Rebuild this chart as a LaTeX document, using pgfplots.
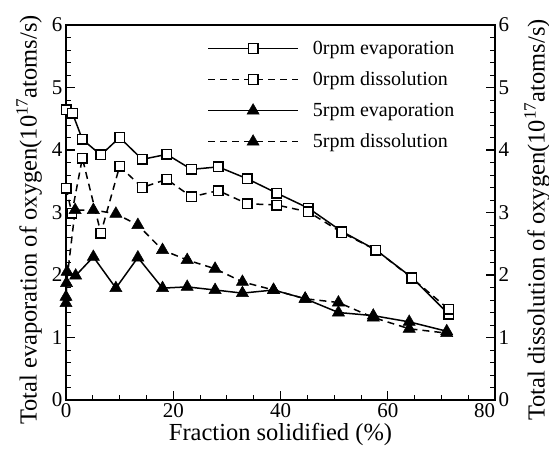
\documentclass[border=0pt]{standalone}
\usepackage{fontspec}
\setmainfont{Liberation Serif}
\usepackage{pgfplots}
\usepackage{pgfplotstable}
\pgfplotsset{compat=1.18}

\pgfplotstableread{
x y
0 4.64
1.2 4.59
3.05 4.17
6.5 3.92
10 4.20
14.2 3.85
18.8 3.93
23.4 3.69
28.4 3.73
33.8 3.54
39.3 3.31
45.2 3.07
51.4 2.70
57.8 2.40
64.5 1.96
71.4 1.37
}\evapzero
\pgfplotstableread{
x y
0 3.39
1.1 2.99
3.05 3.87
6.5 2.67
10 3.74
14.2 3.40
18.8 3.53
23.4 3.25
28.4 3.35
33.8 3.14
39.3 3.12
45.2 3.01
51.4 2.68
57.8 2.40
64.5 1.95
71.4 1.45
}\disszero
\pgfplotstableread{
x y
0 1.65
0.2 2.05
1.8 1.99
5.1 2.29
9.3 1.79
13.4 2.28
18.0 1.79
22.6 1.81
27.8 1.76
32.9 1.71
38.7 1.76
44.6 1.62
50.8 1.40
57.3 1.35
64.0 1.25
71.0 1.10
}\evapfive
\pgfplotstableread{
x y
0 1.55
0.1 1.87
1.7 3.04
5.1 3.04
9.3 2.98
13.4 2.80
18.0 2.40
22.6 2.24
27.8 2.10
32.9 1.89
38.7 1.76
44.6 1.62
50.8 1.56
57.3 1.32
64.0 1.14
71.0 1.07
}\dissfive

\begin{document}
\begin{tikzpicture}
\pgfplotsset{
  common/.style={
    scale only axis, width=429pt, height=375pt,
    xmin=0, xmax=80, ymin=0, ymax=6,
    /pgf/number format/assume math mode=true,
    tick label style={font=\fontsize{21}{21}\selectfont},
    label style={font=\fontsize{24.5}{27}\selectfont},
    axis line style={line width=1.6pt},
    major tick style={line width=1.3pt, black},
    minor tick style={line width=0.8pt, black},
    major tick length=9pt, minor tick length=5pt,
    minor x tick num=3, minor y tick num=4,
    ytick={0,1,2,3,4,5,6},
    xtick={0,20,40,60,80},
  },
  sq/.style={line width=1.5pt, mark=square*, mark size=4.8pt, mark options={fill=white, solid, line width=1.4pt}},
  tri/.style={line width=1.5pt, mark=triangle*, mark size=7pt, mark options={fill=black, solid, line width=0.5pt}},
  dsh/.style={dash pattern=on 7pt off 5pt},
}
\begin{axis}[common, name=ax,
  xtick pos=bottom, ytick pos=left,
  xticklabels={0,20,40,60,\llap{80}},
  xlabel={Fraction solidified (\%)},
  ylabel={Total evaporation of oxygen(10\textsuperscript{17}atoms/s)},
  xlabel style={at={(axis description cs:0.5,0)}, anchor=center, yshift=-34pt},
  ylabel style={at={(axis description cs:-0.0862,0.48)}, anchor=center},
  legend style={at={(0.329,0.963)}, anchor=north west, draw=none, fill=none,
    font=\fontsize{20}{22}\selectfont, row sep=12pt, column sep=12pt, inner sep=0pt,
    nodes={inner sep=2pt},
    cells={anchor=west}},
  legend image code/.code={\draw[mark repeat=2,mark phase=2,#1] plot coordinates {(0pt,0pt) (45pt,0pt) (90pt,0pt)};},
]
\addplot[black, sq] table {\evapzero};
\addlegendentry{0rpm evaporation}
\addplot[black, sq, dsh] table {\disszero};
\addlegendentry{0rpm dissolution}
\addplot[black, tri] table {\evapfive};
\addlegendentry{5rpm evaporation}
\addplot[black, tri, dsh] table {\dissfive};
\addlegendentry{5rpm dissolution}
\end{axis}
\begin{axis}[common,
  axis y line*=right, axis x line=none,
  ylabel={Total dissolution of oxygen(10\textsuperscript{17}atoms/s)},
  ylabel style={at={(axis description cs:1.0979,0.48)}, anchor=center},
]
\end{axis}
\pgfresetboundingbox
\path ([shift={(-66pt,-55pt)}]ax.south west) rectangle ([shift={(54pt,25pt)}]ax.north east);
\end{tikzpicture}
\end{document}
